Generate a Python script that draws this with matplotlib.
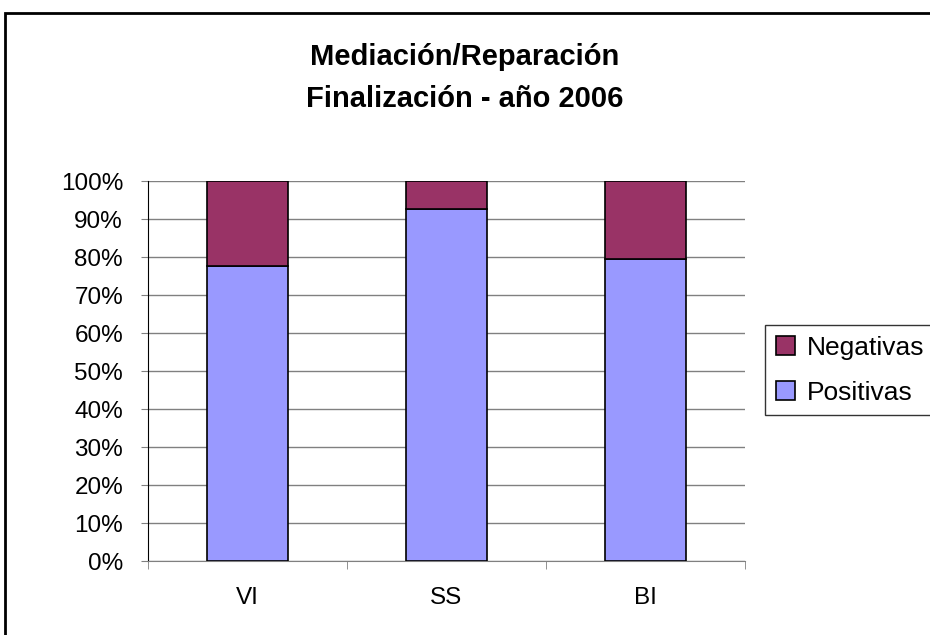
import matplotlib.pyplot as plt
from matplotlib.patches import Rectangle
import numpy as np

plt.rcParams['font.family'] = ['Liberation Sans', 'DejaVu Sans']

categorias = ['VI', 'SS', 'BI']
positivas = [77.7, 92.6, 79.5]
negativas = [22.3, 7.4, 20.5]
yticks = [0, 10, 20, 30, 40, 50, 60, 70, 80, 90, 100]

fig = plt.figure(figsize=(9.3, 6.35), dpi=100)
ax = fig.add_axes([148 / 930, 74 / 635, 597 / 930, 380 / 635])

x = np.arange(len(categorias))
w = 0.41
ax.bar(x, positivas, w, color='#9999FF', edgecolor='black', linewidth=1.2,
       label='Positivas', zorder=3)
ax.bar(x, negativas, w, bottom=positivas, color='#993366', edgecolor='black',
       linewidth=1.2, label='Negativas', zorder=3)

ax.set_xlim(-0.5, len(categorias) - 0.5)
ax.set_ylim(0, 100)
ax.set_yticks(yticks)
ax.set_yticklabels(['%d%%' % v for v in yticks], fontsize=17.5)
ax.yaxis.grid(True, color='#808080', linewidth=1, zorder=0)

ax.set_xticks(x)
ax.set_xticklabels(categorias, fontsize=17.5)
ax.tick_params(axis='x', length=0, pad=19)
ax.set_xticks(np.arange(len(categorias) + 1) - 0.5, minor=True)
ax.tick_params(axis='x', which='minor', length=6, color='#808080', direction='out')
ax.tick_params(axis='y', length=5, direction='out', color='#808080', pad=13)

for s in ['top', 'right']:
    ax.spines[s].set_visible(False)
ax.spines['left'].set_color('black')
ax.spines['bottom'].set_color('#808080')

fig.text(0.5, 1 - 65 / 635, 'Mediación/Reparación', ha='center', va='baseline',
         fontsize=21, fontweight='bold')
fig.text(0.5, 1 - 107 / 635, 'Finalización - año 2006', ha='center', va='baseline',
         fontsize=21, fontweight='bold')

h, l = ax.get_legend_handles_labels()
leg = fig.legend(h[::-1], l[::-1], loc='upper left',
                 bbox_to_anchor=(765 / 930, 1 - 325 / 635), fontsize=19,
                 frameon=True, fancybox=False, edgecolor='black',
                 handlelength=0.75, handleheight=0.75, handletextpad=0.45,
                 borderpad=0.4, labelspacing=0.8, borderaxespad=0)
leg.get_frame().set_linewidth(1)

fig.patches.append(Rectangle((5 / 930, -0.1), 1.2, 1.1 - 13 / 635,
                             transform=fig.transFigure, fill=False,
                             edgecolor='black', linewidth=2))

fig.savefig('out.png', dpi=100)
